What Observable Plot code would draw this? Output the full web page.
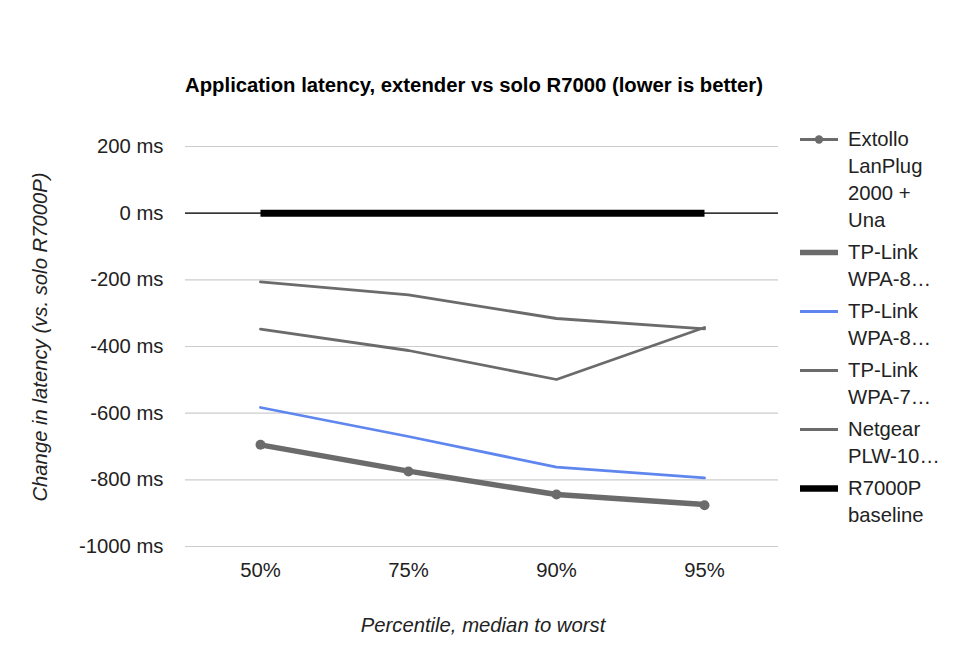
<!DOCTYPE html>
<html>
<head>
<meta charset="utf-8">
<script src="https://cdn.jsdelivr.net/npm/d3@7"></script>
<script src="https://cdn.jsdelivr.net/npm/@observablehq/plot@0.6"></script>
<style>
  html, body { margin: 0; padding: 0; background: #fff; }
  #wrap { position: relative; width: 960px; height: 672px; font-family: "Liberation Sans", Arial, sans-serif; color: #222; }
  #wrap svg { position: absolute; left: 0; top: 0; }
  .title { position: absolute; left: 0; width: 948px; top: 74px; text-align: center; font-weight: bold; font-size: 20.3px; color: #000; }
  .ylab { position: absolute; left: 40px; top: 337px; transform: translate(-50%, -50%) rotate(-90deg); white-space: nowrap; font-style: italic; font-size: 20.3px; color: #222; }
  .xlab { position: absolute; left: 0; width: 966px; top: 614px; text-align: center; font-style: italic; font-size: 20.3px; color: #222; }
  .legend { position: absolute; left: 799px; top: 126px; font-size: 20.3px; line-height: 27px; }
  .item { position: relative; padding-left: 49px; margin-bottom: 5px; }
  .item svg { position: absolute; left: 0; top: 0; }
</style>
</head>
<body>
<div id="wrap"></div>
<script>
const percentiles = ["50%", "75%", "90%", "95%"];
const yTicks = [200, 0, -200, -400, -600, -800, -1000];
const seriesNames = ["Extollo LanPlug 2000 + Una", "TP-Link WPA-8…", "TP-Link WPA-8…", "TP-Link WPA-7…", "Netgear PLW-10…", "R7000P baseline"];
const legendLines = [["Extollo", "LanPlug", "2000 +", "Una"], ["TP-Link", "WPA-8…"], ["TP-Link", "WPA-8…"], ["TP-Link", "WPA-7…"], ["Netgear", "PLW-10…"], ["R7000P", "baseline"]];
const extollo = [-695, -775, -844, -876];
const tplinkWpa8Thick = [-695, -774, -844, -874];
const tplinkWpa8Blue = [-583, -670, -762, -794];
const tplinkWpa7 = [-348, -412, -499, -343];
const netgearPlw10 = [-206, -245, -316, -347];
const baseline = [0, 0, 0, 0];
const colors = ["#6b6b6b", "#6b6b6b", "#5f86ee", "#6b6b6b", "#6b6b6b", "#000000"];
const widths = [2.8, 5.5, 2.8, 2.8, 2.8, 7];

const allSeries = [extollo, tplinkWpa8Thick, tplinkWpa8Blue, tplinkWpa7, netgearPlw10, baseline];
const rows = s => percentiles.map((p, i) => ({p, v: s[i]}));

const lineMark = (k, cap) => Plot.line(rows(allSeries[k]), {x: "p", y: "v", stroke: colors[k], strokeWidth: widths[k], strokeLinecap: cap || "round"});

const chart = Plot.plot({
  width: 960,
  height: 672,
  marginTop: 146,
  marginBottom: 126,
  marginLeft: 185,
  marginRight: 182,
  style: {fontFamily: "Liberation Sans, Arial, sans-serif", fontSize: "20.3px", color: "#222", background: "transparent"},
  x: {type: "point", domain: percentiles, padding: 0.5, label: null, tickSize: 0, tickPadding: 16},
  y: {domain: [-1000, 200], ticks: yTicks, label: null, tickSize: 0, tickPadding: 22, tickFormat: d => `${d} ms`},
  marks: [
    Plot.gridY(yTicks, {stroke: "#cccccc", strokeOpacity: 1, strokeWidth: 1.2}),
    Plot.ruleY([0], {stroke: "#000", strokeWidth: 1.3}),
    lineMark(4),
    lineMark(3),
    lineMark(2),
    lineMark(0),
    Plot.dot(rows(extollo), {x: "p", y: "v", r: 5, fill: colors[0], stroke: "none"}),
    lineMark(1),
    lineMark(5, "butt")
  ]
});

const wrap = document.getElementById("wrap");
wrap.appendChild(chart);

const t = document.createElement("div"); t.className = "title";
t.textContent = "Application latency, extender vs solo R7000 (lower is better)";
wrap.appendChild(t);
const yl = document.createElement("div"); yl.className = "ylab";
yl.textContent = "Change in latency (vs. solo R7000P)";
wrap.appendChild(yl);
const xl = document.createElement("div"); xl.className = "xlab";
xl.textContent = "Percentile, median to worst";
wrap.appendChild(xl);

const lg = document.createElement("div"); lg.className = "legend";
legendLines.forEach((lines, k) => {
  const it = document.createElement("div"); it.className = "item";
  it.title = seriesNames[k];
  const ns = "http://www.w3.org/2000/svg";
  const s = document.createElementNS(ns, "svg");
  s.setAttribute("width", 40); s.setAttribute("height", 27);
  const l = document.createElementNS(ns, "line");
  l.setAttribute("x1", 1); l.setAttribute("x2", 39); l.setAttribute("y1", 13.5); l.setAttribute("y2", 13.5);
  l.setAttribute("stroke", colors[k]); l.setAttribute("stroke-width", k === 0 ? 2.8 : Math.min(widths[k], 6.5));
  s.appendChild(l);
  if (k === 0) {
    const c = document.createElementNS(ns, "circle");
    c.setAttribute("cx", 20); c.setAttribute("cy", 13.5); c.setAttribute("r", 4.2); c.setAttribute("fill", colors[0]);
    s.appendChild(c);
  }
  it.appendChild(s);
  lines.forEach(txt => { const d = document.createElement("div"); d.textContent = txt; it.appendChild(d); });
  lg.appendChild(it);
});
wrap.appendChild(lg);
</script>
</body>
</html>
